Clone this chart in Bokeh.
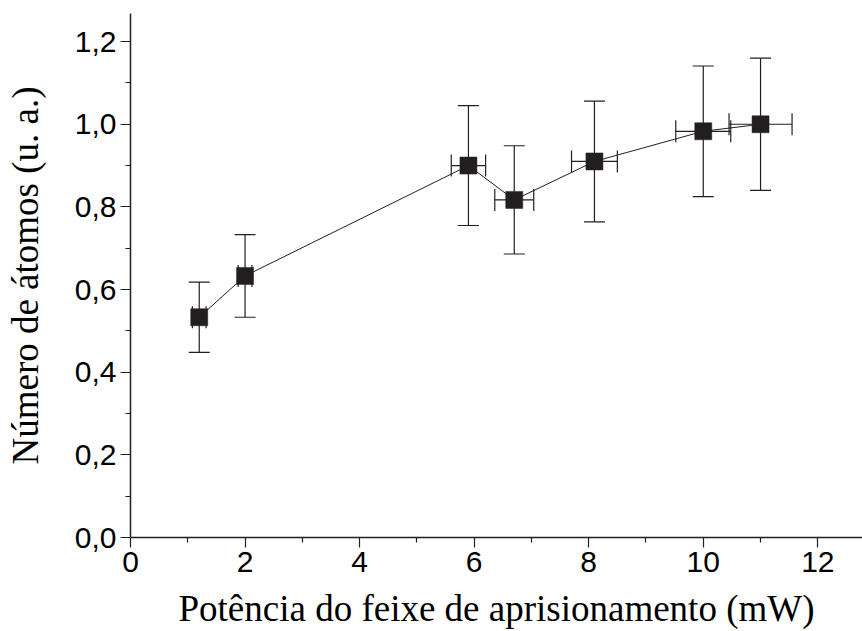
from bokeh.plotting import figure
from bokeh.models import ColumnDataSource, Whisker, TeeHead, FixedTicker, Range1d
from bokeh.embed import file_html
from bokeh.resources import INLINE

# data
power_mw = [1.2, 2.0, 5.9, 6.7, 8.1, 10.0, 11.0]
atoms = [0.533, 0.633, 0.900, 0.817, 0.910, 0.983, 1.000]
atoms_err = [0.085, 0.100, 0.145, 0.131, 0.146, 0.158, 0.160]
power_err = [0.12, 0.12, 0.30, 0.34, 0.40, 0.48, 0.55]

x_ticks = [0, 2, 4, 6, 8, 10, 12]
x_tick_labels = ["0", "2", "4", "6", "8", "10", "12"]
y_ticks = [0, 0.2, 0.4, 0.6, 0.8, 1.0, 1.2]
y_tick_labels = ["0,0", "0,2", "0,4", "0,6", "0,8", "1,0", "1,2"]

INK = "#231f20"
TICK_FONT = "'Liberation Sans Narrow', 'Liberation Sans', sans-serif"
LABEL_FONT = "Liberation Serif"

src = ColumnDataSource(dict(
    x=power_mw, y=atoms,
    y_lo=[a - e for a, e in zip(atoms, atoms_err)],
    y_hi=[a + e for a, e in zip(atoms, atoms_err)],
    x_lo=[a - e for a, e in zip(power_mw, power_err)],
    x_hi=[a + e for a, e in zip(power_mw, power_err)],
))

p = figure(width=862, height=631, output_backend="svg", toolbar_location=None,
           x_range=Range1d(0, 12.78), y_range=Range1d(0, 1.268),
           min_border_left=130, min_border_right=0, min_border_top=13,
           min_border_bottom=94)
p.outline_line_color = None
p.grid.visible = False
p.background_fill_color = "white"
p.border_fill_color = "white"

p.line("x", "y", source=src, line_color=INK, line_width=1)

yw = Whisker(base="x", lower="y_lo", upper="y_hi", source=src, dimension="height",
             line_color=INK, line_width=1.2,
             upper_head=TeeHead(size=21, line_color=INK, line_width=1.2),
             lower_head=TeeHead(size=21, line_color=INK, line_width=1.2))
xw = Whisker(base="y", lower="x_lo", upper="x_hi", source=src, dimension="width",
             line_color=INK, line_width=1.2,
             upper_head=TeeHead(size=22, line_color=INK, line_width=1.2),
             lower_head=TeeHead(size=22, line_color=INK, line_width=1.2))
p.add_layout(yw)
p.add_layout(xw)

p.scatter("x", "y", source=src, marker="square", size=17, fill_color=INK,
          line_color=INK, line_width=0.5)

p.xaxis.ticker = FixedTicker(ticks=x_ticks, minor_ticks=[1, 3, 5, 7, 9, 11])
p.yaxis.ticker = FixedTicker(ticks=y_ticks, minor_ticks=[0.1, 0.3, 0.5, 0.7, 0.9, 1.1])
p.xaxis.major_label_overrides = dict(zip(x_ticks, x_tick_labels))
p.yaxis.major_label_overrides = dict(zip(y_ticks, y_tick_labels))

for ax in (p.xaxis, p.yaxis):
    ax.axis_line_color = INK
    ax.axis_line_width = 1.5
    ax.major_tick_line_color = INK
    ax.minor_tick_line_color = INK
    ax.major_tick_line_width = 1.2
    ax.minor_tick_line_width = 1.2
    ax.major_tick_in = 0
    ax.major_tick_out = 10
    ax.minor_tick_in = 0
    ax.minor_tick_out = 5
    ax.major_label_text_font = TICK_FONT
    ax.major_label_text_font_size = "30px"
    ax.major_label_text_color = "black"
    ax.axis_label_text_font = LABEL_FONT
    ax.axis_label_text_font_size = "37px"
    ax.axis_label_text_font_style = "normal"
    ax.axis_label_text_color = "black"

p.xaxis.axis_label = "Potência do feixe de aprisionamento (mW)"
p.yaxis.axis_label = "Número de átomos (u. a.)"
p.xaxis.major_label_standoff = 4
p.yaxis.major_label_standoff = 4
p.xaxis.axis_label_standoff = 13
p.yaxis.axis_label_standoff = 26

open("out.html", "w").write(file_html(p, INLINE))
